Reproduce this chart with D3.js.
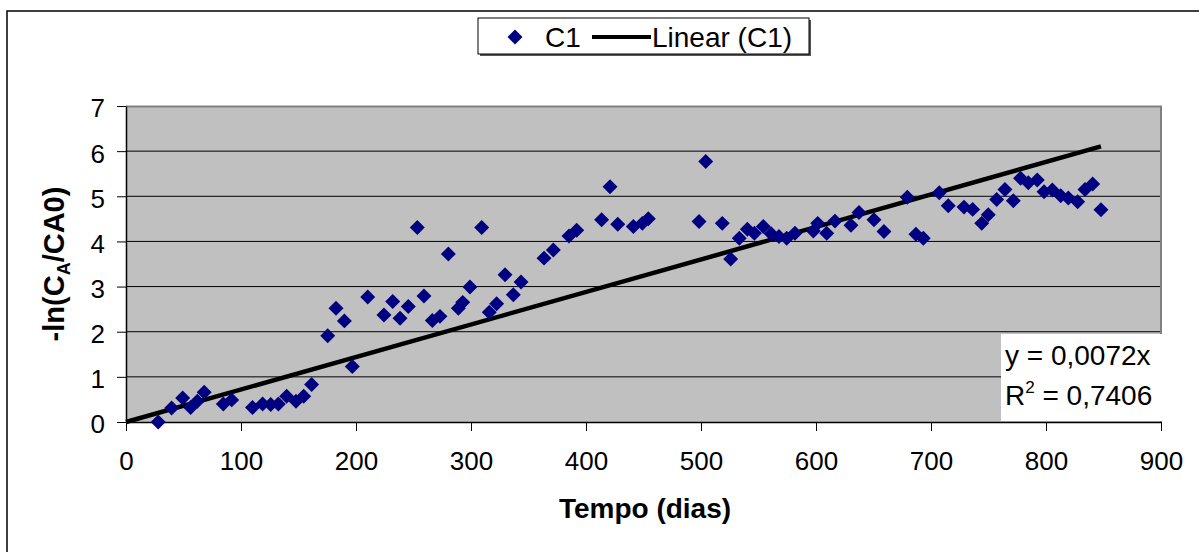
<!DOCTYPE html>
<html>
<head>
<meta charset="utf-8">
<script src="https://cdn.jsdelivr.net/npm/d3@7"></script>
<style>
  body { margin: 0; background: #fff; }
  text { font-family: "Liberation Sans", Arial, sans-serif; }
</style>
</head>
<body>
<div class="canvas"></div>
<script>
// measured points (tempo in dias, -ln(CA/CA0))
const tempo = [28, 39.7, 49.3, 56.2, 62, 68, 84.6, 91.9, 110, 118.8, 125.8, 132.5, 139.7, 147.8, 154.5, 161.4,
  175.4, 182.6, 189.9, 196.8, 210.2, 224.3, 231.9, 238.3, 245.5, 253.3, 259.1, 266.4, 273, 280.3,
  289, 292.8, 299.1, 309.3, 315.9, 322.3, 329.6, 336.8, 343.5, 363.5, 371.6, 385.2, 391.9,
  413.6, 420.9, 427.6, 441.2, 449, 454.2, 498.3, 504.1, 518.5, 525.8, 533.3, 540.3, 546.4,
  554.2, 561, 567.8, 574.5, 581.7, 597.7, 601.5, 609.3, 616.5, 630.4, 637.4, 650.4, 659.1,
  679.4, 686.9, 693.3, 707.2, 715, 728.7, 736.2, 744.1, 749.8, 757.1, 764.3, 771.6, 777.9,
  784.6, 792.4, 798.3, 805.5, 812.8, 819.4, 827.5, 833.9, 840.6, 847.8];
const lnRatio = [0, 0.31, 0.53, 0.32, 0.46, 0.66, 0.40, 0.49, 0.32, 0.40, 0.39, 0.40, 0.57, 0.46, 0.57, 0.83,
  1.91, 2.52, 2.24, 1.23, 2.77, 2.37, 2.67, 2.30, 2.56, 4.31, 2.79, 2.25, 2.34, 3.72,
  2.52, 2.65, 2.99, 4.31, 2.43, 2.62, 3.26, 2.82, 3.10, 3.63, 3.81, 4.12, 4.25,
  4.48, 5.21, 4.38, 4.33, 4.40, 4.50, 4.44, 5.77, 4.40, 3.61, 4.07, 4.27, 4.18,
  4.33, 4.17, 4.11, 4.07, 4.18, 4.23, 4.40, 4.18, 4.45, 4.36, 4.64, 4.48, 4.22,
  4.98, 4.16, 4.07, 5.08, 4.79, 4.76, 4.71, 4.40, 4.59, 4.93, 5.15, 4.90, 5.40,
  5.30, 5.36, 5.10, 5.14, 5.01, 4.96, 4.88, 5.15, 5.27, 4.70];
const slope = 0.0072;
const eqLabel = "y = 0,0072x";
const r2Label = " = 0,7406";
const xTicks = [0, 100, 200, 300, 400, 500, 600, 700, 800, 900];
const yTicks = [0, 1, 2, 3, 4, 5, 6, 7];

const svgWidth = 1199;
const svgHeight = 552;
const margin = { t: 106, r: 38, b: 130, l: 126 };
const gWidth = svgWidth - margin.l - margin.r;
const gHeight = svgHeight - margin.t - margin.b;

const svg = d3.select(".canvas").append("svg")
  .attr("width", svgWidth)
  .attr("height", svgHeight);

// outer chart frame
svg.append("rect")
  .attr("x", 7).attr("y", 11)
  .attr("width", svgWidth + 20).attr("height", svgHeight + 20)
  .attr("fill", "#fff").attr("stroke", "#000").attr("stroke-width", 1.5);

const g = svg.append("g").attr("transform", `translate(${margin.l}, ${margin.t})`);

const x = d3.scaleLinear().domain([0, 900]).range([0, gWidth]);
const y = d3.scaleLinear().domain([0, 7]).range([gHeight, 0]);

g.append("rect")
  .attr("width", gWidth).attr("height", gHeight)
  .attr("fill", "#c0c0c0");

// gridlines
g.append("g").selectAll("line").data(yTicks.slice(1, -1)).join("line")
  .attr("x1", 0).attr("x2", gWidth)
  .attr("y1", d => y(d)).attr("y2", d => y(d))
  .attr("stroke", "#000").attr("stroke-width", 1);

// plot border top/right
g.append("path")
  .attr("d", `M0,0.5H${gWidth}V${gHeight}`)
  .attr("fill", "none").attr("stroke", "#808080").attr("stroke-width", 2);

const xAxis = d3.axisBottom(x).tickValues(xTicks).tickFormat(d3.format("d"))
  .tickSizeInner(9).tickSizeOuter(0).tickPadding(14);
const yAxis = d3.axisLeft(y).tickValues(yTicks).tickFormat(d3.format("d"))
  .tickSizeInner(9).tickSizeOuter(0).tickPadding(12);

const xAxisGroup = g.append("g").attr("transform", `translate(0, ${gHeight})`).call(xAxis);
const yAxisGroup = g.append("g").call(yAxis);

[xAxisGroup, yAxisGroup].forEach(ax => {
  ax.select(".domain").attr("stroke", "#000").attr("stroke-width", 1.5);
  ax.selectAll(".tick line").attr("stroke", "#000");
  ax.selectAll("text")
    .attr("font-size", 26)
    .attr("font-family", "'Liberation Sans', Arial, sans-serif")
    .attr("fill", "#000");
});
yAxisGroup.selectAll("text").attr("dy", "0.42em");
xAxisGroup.selectAll("text").attr("dy", "0.95em");

// trend line
const line = d3.line().x(d => x(d)).y(d => y(slope * d));
g.append("path")
  .datum([0, d3.max(tempo)])
  .attr("d", line)
  .attr("fill", "none")
  .attr("stroke", "#000")
  .attr("stroke-width", 4.5);

// points
const diamond = d3.symbol(d3.symbolSquare).size(112);
g.append("g").selectAll("path").data(tempo).join("path")
  .attr("d", diamond)
  .attr("transform", (d, i) => `translate(${x(d)}, ${y(lnRatio[i])}) rotate(45)`)
  .attr("fill", "#000080");

// equation label
const eq = g.append("g").attr("transform", `translate(${gWidth - 160}, ${gHeight - 88})`);
eq.append("rect").attr("x", 0).attr("y", 0).attr("width", 162).attr("height", 87).attr("fill", "#fff");
eq.append("text").attr("x", 4).attr("y", 31).attr("font-size", 28).text(eqLabel);
const r2 = eq.append("text").attr("x", 4).attr("y", 71).attr("font-size", 28);
r2.append("tspan").text("R");
r2.append("tspan").attr("font-size", 17).attr("dy", -12).text("2");
r2.append("tspan").attr("dy", 12).text(r2Label);

// axis titles
svg.append("text")
  .attr("x", 645).attr("y", 518)
  .attr("text-anchor", "middle")
  .attr("font-size", 28).attr("font-weight", "bold")
  .text("Tempo (dias)");

const yt = svg.append("text")
  .attr("transform", `translate(64, ${margin.t + gHeight / 2}) rotate(-90)`)
  .attr("text-anchor", "middle")
  .attr("font-size", 29).attr("font-weight", "bold");
yt.append("tspan").text("-ln(C");
yt.append("tspan").attr("font-size", 18).attr("dy", 6).text("A");
yt.append("tspan").attr("dy", -6).text("/CA0)");

// legend
const legend = svg.append("g").attr("transform", "translate(478, 18)");
legend.append("rect").attr("x", 2).attr("y", 2).attr("width", 331).attr("height", 36).attr("fill", "#555");
legend.append("rect").attr("width", 331).attr("height", 36).attr("fill", "#fff").attr("stroke", "#000").attr("stroke-width", 1);
legend.append("path").attr("d", diamond).attr("transform", "translate(37, 19) rotate(45)").attr("fill", "#000080");
legend.append("text").attr("x", 67).attr("y", 29).attr("font-size", 28).text("C1");
legend.append("line").attr("x1", 114).attr("x2", 173).attr("y1", 19).attr("y2", 19)
  .attr("stroke", "#000").attr("stroke-width", 4);
legend.append("text").attr("x", 174).attr("y", 29).attr("font-size", 28).text("Linear (C1)");
</script>
</body>
</html>
